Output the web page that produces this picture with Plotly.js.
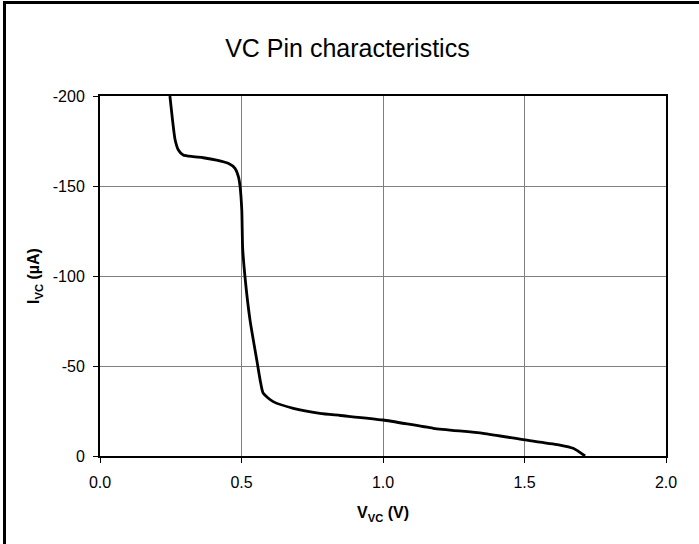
<!DOCTYPE html>
<html>
<head>
<meta charset="utf-8">
<script src="https://cdn.plot.ly/plotly-3.0.1.min.js"></script>
<style>
html,body{margin:0;padding:0;background:#fff;}
#wrap{position:relative;width:699px;height:544px;overflow:hidden;}
#frame{position:absolute;left:3px;top:1px;width:720px;height:600px;border-left:3px solid #000;border-top:3px solid #000;box-sizing:border-box;pointer-events:none;z-index:5;}
#chart{position:absolute;left:0;top:0;width:699px;height:544px;}
</style>
</head>
<body>
<div id="wrap">
<div id="chart"></div>
<div id="frame"></div>
</div>
<script>
var vvc = [0.247, 0.256, 0.265, 0.277, 0.294, 0.330, 0.365, 0.412, 0.453, 0.477, 0.489, 0.495, 0.501, 0.504, 0.512, 0.530, 0.554, 0.568, 0.577, 0.612, 0.683, 0.777, 0.850, 1.000, 1.178, 1.354, 1.502, 1.625, 1.672, 1.714];
var ivc = [-200, -187, -176, -170, -167.2, -166.3, -165.7, -164.4, -162.6, -159.8, -155.2, -149.6, -136.7, -116, -100, -75.6, -53.3, -40.4, -34.8, -30.2, -26.5, -23.7, -22.5, -20, -15.4, -12.6, -8.9, -6.1, -4.3, 0];
var yTicks = [-200, -150, -100, -50, 0];
var xTicks = [0.0, 0.5, 1.0, 1.5, 2.0];

var fontFam = '"Liberation Sans", Arial, sans-serif';
var trace = {
  x: vvc, y: ivc, type: 'scatter', mode: 'lines',
  line: {color: '#000', width: 2.8, shape: 'spline', smoothing: 0.6},
  hoverinfo: 'skip'
};
var layout = {
  width: 699, height: 544,
  margin: {l: 100, r: 33, t: 96, b: 88},
  paper_bgcolor: '#fff', plot_bgcolor: '#fff',
  showlegend: false,
  title: {text: 'VC Pin characteristics', font: {family: fontFam, size: 25, color: '#000'}, x: 0.497, xanchor: 'center', y: 0.912, yanchor: 'middle', yref: 'container'},
  xaxis: {
    range: [0, 2], tickvals: xTicks, ticktext: xTicks.map(function(v){return v.toFixed(1);}),
    showgrid: true, gridcolor: '#7f7f7f', gridwidth: 1,
    showline: true, linecolor: '#000', linewidth: 2, mirror: true,
    ticks: 'outside', ticklen: 5, tickcolor: '#000', tickwidth: 1,
    ticklabelstandoff: 6,
    tickfont: {family: fontFam, size: 16, color: '#000'},
    zeroline: false,
    title: {text: '<b>V<sub>VC</sub> (V)</b>', font: {family: fontFam, size: 16, color: '#000'}, standoff: 17}
  },
  yaxis: {
    range: [0, -200], tickvals: yTicks, ticktext: yTicks.map(String),
    showgrid: true, gridcolor: '#7f7f7f', gridwidth: 1,
    showline: true, linecolor: '#000', linewidth: 2, mirror: true,
    ticks: 'outside', ticklen: 5, tickcolor: '#000', tickwidth: 1,
    ticklabelstandoff: 5,
    tickfont: {family: fontFam, size: 16, color: '#000'},
    zeroline: false,
    title: {text: '<b>I<sub>VC</sub> (µA)</b>', font: {family: fontFam, size: 16, color: '#000'}, standoff: 9}
  }
};
Plotly.newPlot('chart', [trace], layout, {staticPlot: true, displayModeBar: false});
</script>
</body>
</html>
